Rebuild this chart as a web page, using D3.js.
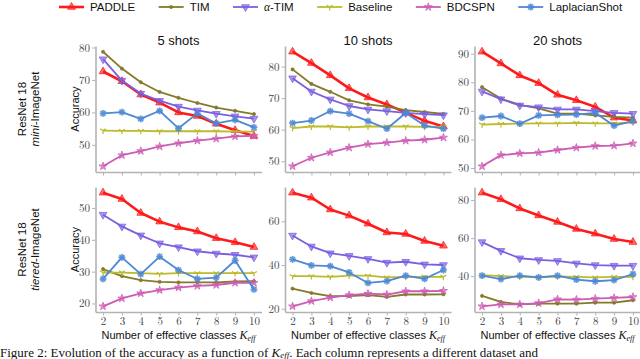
<!DOCTYPE html>
<html>
<head>
<meta charset="utf-8">
<script src="https://cdn.jsdelivr.net/npm/d3@7"></script>
<style>
  body { margin: 0; background: #fff; }
  svg { display: block; }
</style>
</head>
<body>
<svg></svg>
<script>
// number of effective classes
const K = [2, 3, 4, 5, 6, 7, 8, 9, 10];
const methods = ["PADDLE", "TIM", "α-TIM", "Baseline", "BDCSPN", "LaplacianShot"];

// series order follows methods: PADDLE, TIM, α-TIM, Baseline, BDCSPN, LaplacianShot
const mini5 = [
  [72.6, 69.6, 65.5, 63.0, 60.0, 58.9, 56.5, 54.5, 52.7],
  [78.7, 73.5, 69.3, 66.3, 64.5, 62.9, 61.5, 60.5, 59.5],
  [76.4, 69.8, 65.8, 63.6, 61.8, 60.6, 59.6, 58.8, 58.1],
  [54.4, 54.3, 54.3, 54.2, 54.2, 54.2, 54.2, 54.1, 54.1],
  [43.4, 46.8, 48.1, 49.5, 50.5, 51.3, 51.9, 52.6, 52.8],
  [59.7, 60.1, 58.0, 60.5, 55.1, 59.7, 56.6, 57.7, 55.4]
];
const mini10 = [
  [84.7, 81.1, 77.2, 73.1, 70.2, 68.0, 65.4, 62.8, 61.0],
  [79.1, 74.5, 72.0, 69.3, 68.0, 67.3, 66.2, 65.6, 65.0],
  [76.3, 72.1, 69.6, 67.5, 66.4, 65.9, 65.3, 64.9, 64.6],
  [60.5, 61.0, 61.0, 60.7, 61.0, 61.0, 61.0, 60.9, 60.9],
  [48.4, 51.1, 52.8, 54.3, 55.4, 55.9, 56.5, 56.8, 57.5],
  [62.1, 62.9, 65.9, 65.1, 62.7, 60.3, 65.3, 61.3, 60.3]
];
const mini20 = [
  [90.7, 86.6, 82.4, 79.7, 75.6, 73.7, 71.4, 67.6, 66.6],
  [78.3, 74.3, 72.1, 70.9, 69.0, 69.0, 68.4, 67.9, 67.6],
  [76.8, 74.1, 71.9, 71.3, 70.5, 70.5, 69.9, 69.3, 69.0],
  [65.2, 65.4, 65.5, 65.6, 65.6, 65.8, 65.6, 65.6, 66.0],
  [50.6, 54.5, 55.1, 55.4, 56.3, 57.1, 57.7, 57.8, 58.6],
  [67.6, 68.2, 65.5, 68.4, 68.6, 68.7, 69.3, 64.8, 66.4]
];
const tiered5 = [
  [54.8, 52.8, 48.4, 45.7, 43.9, 42.6, 40.5, 39.2, 37.7],
  [30.8, 28.6, 27.3, 26.8, 26.6, 26.6, 26.6, 26.9, 27.0],
  [47.9, 44.2, 41.4, 38.9, 37.7, 36.4, 35.7, 35.3, 34.5],
  [29.7, 29.7, 29.5, 29.3, 29.5, 29.5, 29.5, 29.5, 29.5],
  [19.1, 21.6, 23.2, 24.2, 25.0, 25.5, 25.8, 26.5, 26.5],
  [27.7, 34.5, 29.2, 34.7, 30.5, 27.7, 28.1, 33.5, 24.4]
];
const tiered10 = [
  [73.1, 70.8, 65.4, 62.6, 58.9, 54.9, 54.2, 51.0, 48.8],
  [29.2, 27.2, 25.8, 25.8, 26.2, 25.4, 26.5, 26.5, 26.6],
  [53.5, 48.5, 45.4, 44.2, 42.8, 41.1, 41.5, 40.3, 40.0],
  [34.9, 34.9, 34.6, 35.1, 35.1, 34.3, 34.6, 34.6, 34.6],
  [21.1, 23.5, 25.1, 26.2, 26.9, 26.5, 28.0, 28.0, 28.2],
  [42.6, 39.8, 39.5, 36.6, 31.8, 32.6, 35.1, 33.7, 37.7]
];
const tiered20 = [
  [83.9, 80.4, 75.6, 71.9, 68.5, 64.8, 62.3, 59.5, 57.9],
  [29.6, 26.4, 25.1, 25.5, 25.5, 25.5, 26.0, 26.0, 27.3],
  [57.9, 53.3, 49.4, 48.5, 48.0, 46.7, 45.8, 45.5, 45.5],
  [40.5, 40.0, 39.6, 39.4, 39.8, 39.6, 39.3, 39.6, 39.6],
  [24.1, 25.1, 25.1, 25.8, 27.8, 27.6, 28.1, 28.5, 29.0],
  [40.2, 38.4, 40.2, 39.3, 40.2, 38.2, 37.3, 37.9, 41.1]
];

const titles = ["5 shots", "10 shots", "20 shots"];
const yticksMini = [[50, 60, 70, 80], [50, 60, 70, 80], [50, 60, 70, 80, 90]];
const yticksTiered = [[20, 30, 40, 50], [20, 40, 60], [40, 60, 80]];

const colors = ["#ff1a1a", "#857a28", "#7b5fe0", "#bcbb2c", "#cc5cb4", "#4d88d4"];
const lineW = [2.6, 1.8, 1.8, 1.8, 1.8, 1.8];

const width = 640, height = 359;
const svg = d3.select("svg").attr("width", width).attr("height", height)
  .style("font-family", "'Liberation Sans', Arial, sans-serif");

const colLeft = [95.5, 285, 474.5];
const panelW = 166;
const rows = [{top: 46, bottom: 172}, {top: 187, bottom: 312}];
const axisGray = "#b3b3b3";

// marker shapes
function markerPath(i) {
  if (i === 0 || i === 2) return d3.symbol(d3.symbolTriangle, 26)();
  if (i === 1) return d3.symbol(d3.symbolCircle, 8)();
  if (i === 3) {
    const p = d3.path(), a = 3.4;
    p.moveTo(0, 0); p.lineTo(0, a);
    p.moveTo(0, 0); p.lineTo(-a * 0.866, -a * 0.5);
    p.moveTo(0, 0); p.lineTo(a * 0.866, -a * 0.5);
    return p.toString();
  }
  if (i === 4) return d3.symbol(d3.symbolStar, 20)();
  const p = d3.path(), a = 3.4;
  [0, 45, 90, 135].forEach(deg => {
    const t = deg * Math.PI / 180;
    p.moveTo(-a * Math.cos(t), -a * Math.sin(t));
    p.lineTo(a * Math.cos(t), a * Math.sin(t));
  });
  return p.toString();
}

function drawMarker(sel, i, cx, cy) {
  const g = sel.append("g").attr("transform", `translate(${cx},${cy})` + (i === 2 ? " rotate(180)" : ""));
  const c = colors[i];
  if (i === 5) {
    g.append("circle").attr("r", 3.4).attr("fill", c).attr("fill-opacity", 0.3);
    g.append("path").attr("d", markerPath(i)).attr("stroke", c).attr("stroke-width", 1.4)
      .attr("stroke-opacity", 0.85).attr("fill", "none");
  } else if (i === 3) {
    g.append("path").attr("d", markerPath(i)).attr("stroke", c).attr("stroke-width", 1.2).attr("fill", "none");
  } else {
    g.append("path").attr("d", markerPath(i)).attr("fill", c).attr("fill-opacity", i === 1 ? 1 : 0.65)
      .attr("stroke", c).attr("stroke-opacity", 0.75).attr("stroke-width", 1);
  }
}

function panel(data, row, col, yticks, showX) {
  const x = d3.scaleLinear().domain([1.6, 10.4]).range([colLeft[col], colLeft[col] + panelW]);
  const ext = d3.extent(data.flat());
  const pad = (ext[1] - ext[0]) * 0.05;
  const y = d3.scaleLinear().domain([ext[0] - pad, ext[1] + pad])
    .range([rows[row].bottom, rows[row].top]);

  const ax = svg.append("g").attr("transform", `translate(0,${rows[row].bottom})`)
    .call(d3.axisBottom(x).tickValues(K).tickSize(3.5).tickSizeOuter(0).tickPadding(2)
      .tickFormat(showX ? d3.format("d") : ""));
  const ay = svg.append("g").attr("transform", `translate(${colLeft[col]},0)`)
    .call(d3.axisLeft(y).tickValues(yticks).tickSize(3.5).tickSizeOuter(0).tickPadding(2));
  [ax, ay].forEach(a => {
    a.select(".domain").attr("stroke", axisGray).attr("stroke-width", 1.6);
    a.selectAll(".tick line").attr("stroke", axisGray).attr("stroke-width", 1);
    a.selectAll(".tick text").attr("fill", "#444")
      .style("font-family", "'Latin Modern Roman', 'Liberation Serif', serif").style("font-size", "11px");
  });

  const line = d3.line().x((d, j) => x(K[j])).y(d => y(d));
  data.forEach((s, i) => {
    svg.append("path").datum(s).attr("d", line).attr("fill", "none")
      .attr("stroke", colors[i]).attr("stroke-width", lineW[i]).attr("stroke-linejoin", "round");
    const mg = svg.append("g");
    s.forEach((v, j) => drawMarker(mg, i, x(K[j]), y(v)));
  });

  if (row === 0) {
    svg.append("text").attr("x", colLeft[col] + panelW / 2).attr("y", 45)
      .attr("text-anchor", "middle").style("font-size", "13px").attr("fill", "#111").text(titles[col]);
  }
  if (col === 0) {
    svg.append("text").attr("transform", `translate(79,${(rows[row].top + rows[row].bottom) / 2}) rotate(-90)`)
      .attr("text-anchor", "middle").style("font-size", "11px").attr("fill", "#111").text("Accuracy");
  }
  if (showX) {
    const t = svg.append("text").attr("x", colLeft[col] + panelW / 2).attr("y", 339)
      .attr("text-anchor", "middle").style("font-size", "11px").attr("fill", "#111");
    t.append("tspan").text("Number of effective classes ");
    t.append("tspan").style("font-family", "'Liberation Serif', serif").style("font-style", "italic")
      .style("font-size", "12px").text("K");
    t.append("tspan").style("font-family", "'Liberation Serif', serif").style("font-style", "italic")
      .style("font-size", "8px").attr("dy", 1.5).text("eff");
  }
}

panel(mini5, 0, 0, yticksMini[0], false);
panel(mini10, 0, 1, yticksMini[1], false);
panel(mini20, 0, 2, yticksMini[2], false);
panel(tiered5, 1, 0, yticksTiered[0], true);
panel(tiered10, 1, 1, yticksTiered[1], true);
panel(tiered20, 1, 2, yticksTiered[2], true);

// row labels
[["mini", 0], ["tiered", 1]].forEach(([name, r]) => {
  const cy = (rows[r].top + rows[r].bottom) / 2;
  svg.append("text").attr("transform", `translate(26,${cy}) rotate(-90)`)
    .attr("text-anchor", "middle").style("font-size", "11.5px").attr("fill", "#111").text("ResNet 18");
  const t = svg.append("text").attr("transform", `translate(39,${cy}) rotate(-90)`)
    .attr("text-anchor", "middle").style("font-size", "11.5px").attr("fill", "#111");
  t.append("tspan").style("font-style", "italic").text(name);
  t.append("tspan").text("-ImageNet");
});

// legend
const leg = svg.append("g");
let lx = 59;
methods.forEach((m, i) => {
  const g = leg.append("g");
  g.append("line").attr("x1", lx).attr("x2", lx + 25).attr("y1", 7).attr("y2", 7)
    .attr("stroke", colors[i]).attr("stroke-width", lineW[i]);
  drawMarker(g, i, lx + 12.5, 7);
  const t = g.append("text").attr("x", lx + 31).attr("y", 11).style("font-size", "11.5px").attr("fill", "#111");
  if (m === "α-TIM") {
    t.append("tspan").style("font-family", "'Liberation Serif', serif").style("font-style", "italic").text("α");
    t.append("tspan").text("-TIM");
  } else {
    t.text(m);
  }
  lx += 31 + t.node().getComputedTextLength() + 23.5;
});

// figure caption at the bottom edge
const cap = svg.append("text").attr("x", 0).attr("y", 356.5)
  .style("font-family", "'Liberation Serif', serif").style("font-size", "13px").attr("fill", "#111");
cap.append("tspan").text("Figure 2: Evolution of the accuracy as a function of ");
cap.append("tspan").style("font-style", "italic").text("K");
cap.append("tspan").style("font-style", "italic").style("font-size", "9px").attr("dy", 1.5).text("eff");
cap.append("tspan").attr("dy", -1.5).text(". Each column represents a different dataset and");
</script>
</body>
</html>
